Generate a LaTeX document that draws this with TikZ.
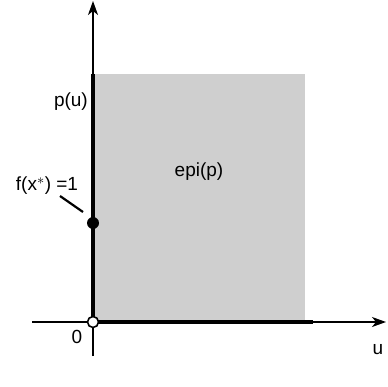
\documentclass[tikz,border=0pt]{standalone}
\usepackage{fontspec}
\setmainfont{Liberation Sans}
\usetikzlibrary{arrows.meta}
\begin{document}
\begin{tikzpicture}[x=1pt,y=-1pt,
  axis/.style={line width=1.6pt,-{Stealth[length=14pt,width=10pt,inset=4pt]}},
  thickline/.style={line width=4.2pt},
  lbl/.style={font=\fontsize{19}{22}\selectfont,inner sep=0pt}]
\useasboundingbox (0,0) rectangle (387,387);
\fill[gray!38] (93,74) rectangle (305,322);
\coordinate (ytop) at (93,1);
\coordinate (ybot) at (93,356);
\coordinate (xleft) at (32,322);
\coordinate (xright) at (386,322);
\coordinate (o) at (93,322);
\coordinate (pt) at (93,74);
\coordinate (xe) at (313,322);
\draw[axis] (ybot) -- (ytop);
\draw[axis] (xleft) -- (xright);
\draw[thickline] (o) -- (pt);
\draw[thickline] (o) -- (xe);
\node[circle,fill=black,minimum size=12pt,inner sep=0pt] (dot) at (93,223) {};
\node[circle,draw=black,fill=white,line width=1.6pt,minimum size=11pt,inner sep=0pt] (oc) at (o) {};
\node[lbl,anchor=east] (pu) at (88,102) {p(u)};
\node[lbl] (fx) at (47,186) {f(x$^{*}$) =1};
\coordinate (la) at (60,196);
\coordinate (lb) at (83,212);
\draw[line width=2.2pt] (la) -- (lb);
\node[lbl] (epi) at (199,172) {epi(p)};
\node[lbl] (zero) at (77,337) {0};
\node[lbl] (u) at (378,350) {u};
\end{tikzpicture}
\end{document}
